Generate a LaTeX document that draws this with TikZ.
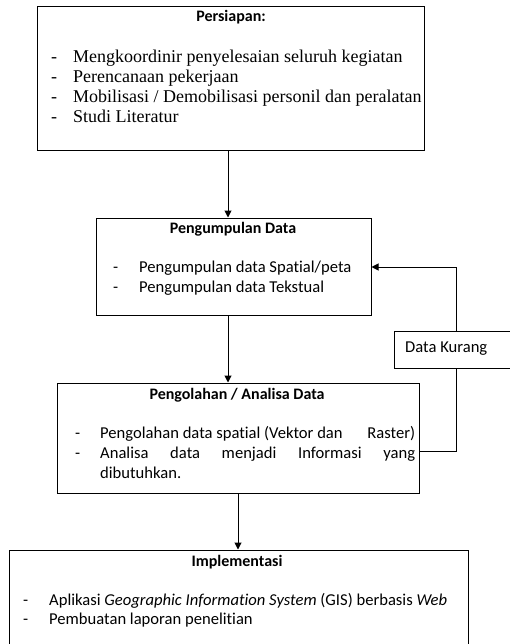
\documentclass[tikz,border=0pt]{standalone}
\usepackage{fontspec}
\setmainfont{Liberation Serif}
\newfontfamily\calib[Ligatures=NoCommon]{Carlito}
\usetikzlibrary{arrows.meta}

\tikzset{
  kotak/.style={draw, line width=1pt, inner sep=0pt},
  judul/.style={inner sep=0pt, font=\calib\bfseries\fontsize{16}{18}\selectfont},
  isi/.style={anchor=base west, inner sep=0pt, font=\calib\fontsize{16.6}{18}\selectfont},
  isiserif/.style={anchor=base west, inner sep=0pt, font=\fontsize{18}{20}\selectfont},
  garis/.style={line width=1pt},
  panah/.style={garis, -{Triangle[length=7pt,width=7pt]}}
}

\begin{document}
\begin{tikzpicture}[x=1pt,y=-1pt]
        \useasboundingbox (0,0) rectangle (510,644);

        % Persiapan
        \node[kotak, minimum width=387pt, minimum height=144pt] (persiapan) at (230.5,79) {};
        \node[judul] (persiapanjudul) at (231,17) {Persiapan:};
        \node[isiserif] (ps1) at (51,63) {-};
        \node[isiserif] (ps1t) at (73,63) {Mengkoordinir penyelesaian seluruh kegiatan};
        \node[isiserif] (ps2) at (51,83) {-};
        \node[isiserif] (ps2t) at (73,83) {Perencanaan pekerjaan};
        \node[isiserif] (ps3) at (51,103) {-};
        \node[isiserif] (ps3t) at (73,103) {Mobilisasi / Demobilisasi personil dan peralatan};
        \node[isiserif] (ps4) at (51,123) {-};
        \node[isiserif] (ps4t) at (73,123) {Studi Literatur};

        % Pengumpulan Data
        \node[kotak, minimum width=275pt, minimum height=97pt] (pengumpulan) at (233.5,266.5) {};
        \node[judul] (pengumpulanjudul) at (233,229) {Pengumpulan Data};
        \node[isi] (pd1) at (113,272) {-};
        \node[isi] (pd1t) at (139,272) {Pengumpulan data Spatial/peta};
        \node[isi] (pd2) at (113,292) {-};
        \node[isi] (pd2t) at (139,292) {Pengumpulan data Tekstual};

        % Data Kurang
        \node[kotak, minimum width=136pt, minimum height=37pt] (kurang) at (462,349.5) {};
        \node[isi] (kurangteks) at (405,352) {Data Kurang};

        % Pengolahan / Analisa Data
        \node[kotak, minimum width=362pt, minimum height=110pt] (pengolahan) at (238,438) {};
        \node[judul] (pengolahanjudul) at (237,395) {Pengolahan / Analisa Data};
        \node[isi] (pa1) at (75,438) {-};
        \node[isi] (pa1t) at (100,438) {\makebox[315pt][l]{Pengolahan data spatial (Vektor dan\hfill Raster)}};
        \node[isi] (pa2) at (75,458) {-};
        \node[isi] (pa2t) at (100,458) {\makebox[315pt][s]{Analisa data menjadi Informasi yang}};
        \node[isi] (pa3t) at (100,478) {dibutuhkan.};

        % Implementasi
        \node[kotak, minimum width=459pt, minimum height=110pt] (implementasi) at (238.5,605) {};
        \node[judul] (implementasijudul) at (237,562) {Implementasi};
        \node[isi] (im1) at (23,605) {-};
        \node[isi] (im1t) at (49,605) {Aplikasi \textit{Geographic Information System} (GIS) berbasis \textit{Web}};
        \node[isi] (im2) at (23,624) {-};
        \node[isi] (im2t) at (49,624) {Pembuatan laporan penelitian};

        % alur
        \coordinate (lurus) at (228,0);
        \draw[panah] (persiapan.south -| lurus) -- (pengumpulan.north -| lurus);
        \draw[panah] (pengumpulan.south -| lurus) -- (pengolahan.north -| lurus);
        \draw[panah] (pengolahan.south) -- (pengolahan.south |- implementasi.north);

        % umpan balik
        \coordinate (balik1) at (456,451);
        \coordinate (balik2) at (456,267);
        \draw[garis] (pengolahan.east |- balik1) -- (balik1) -- (kurang.south -| balik1);
        \draw[panah] (kurang.north -| balik2) -- (balik2) -- (pengumpulan.east |- balik2);
\end{tikzpicture}
\end{document}
